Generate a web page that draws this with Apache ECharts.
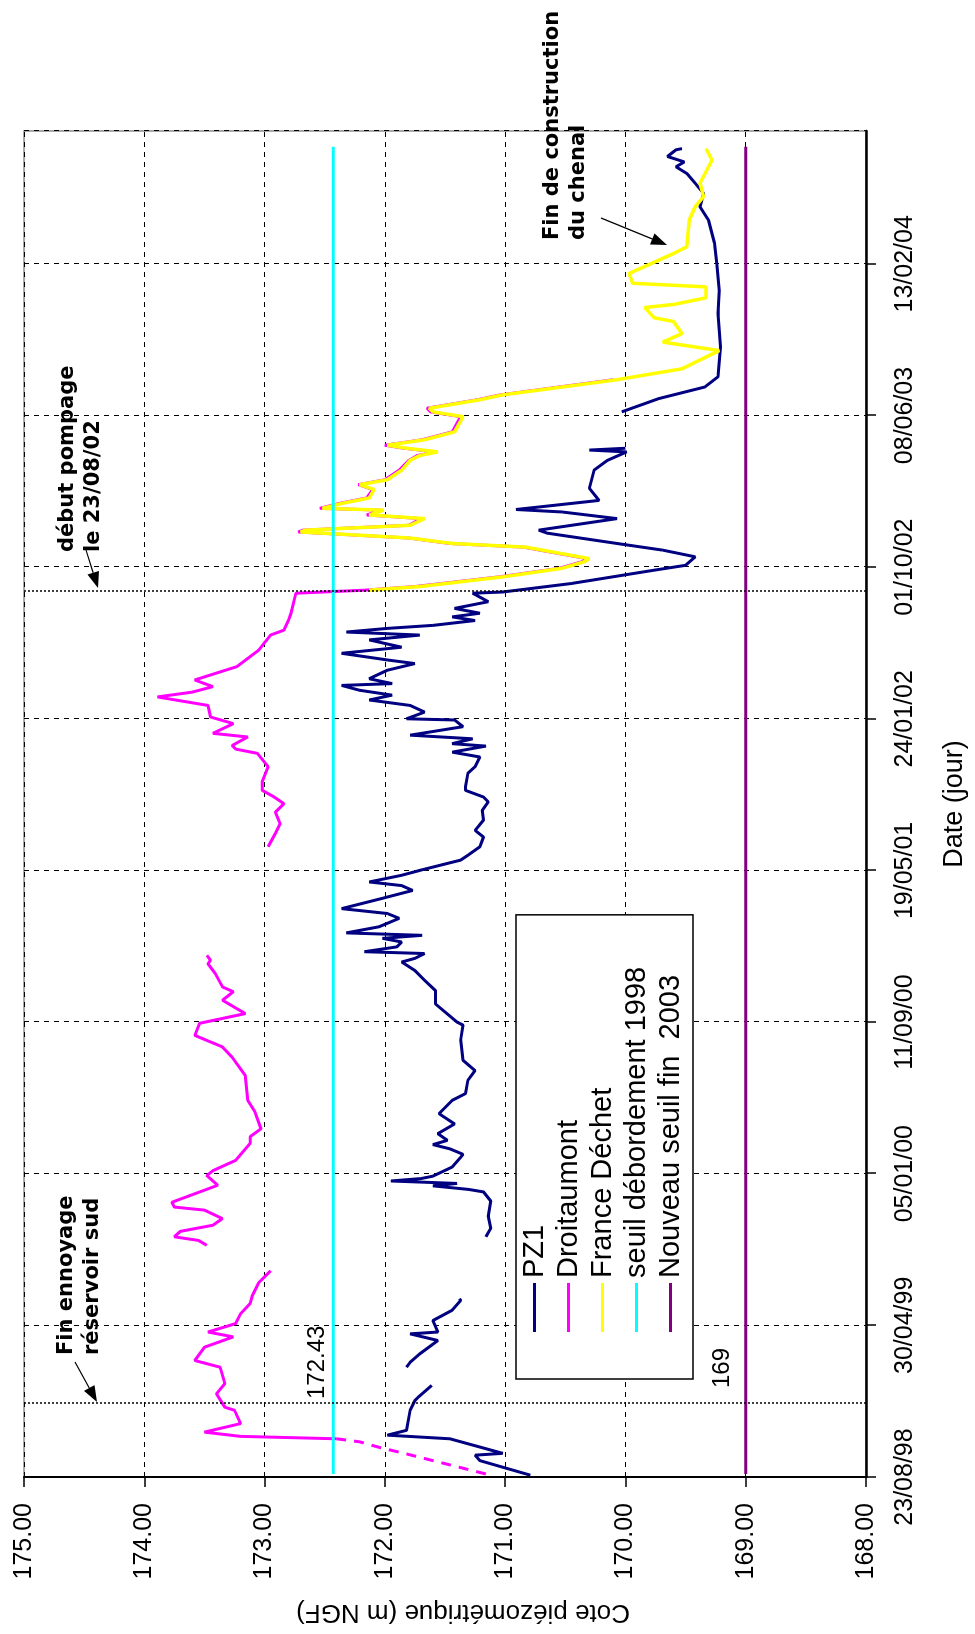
<!DOCTYPE html>
<html>
<head>
<meta charset="utf-8">
<script src="https://cdn.jsdelivr.net/npm/echarts@6/dist/echarts.min.js"></script>
<style>
html,body{margin:0;padding:0;background:#fff;overflow:hidden;width:975px;height:1634px}
#chart{position:absolute;left:0;top:0;width:1634px;height:975px;transform-origin:0 0;transform:translate(0,1634px) rotate(-90deg)}
</style>
</head>
<body>
<div id="chart"></div>
<script>
// ---- data (x = days since 23/08/98, y = m NGF) ----
const pz1 = [[3,170.79],[27,171.21],[36,171.25],[39,171.02],[63,171.46],[69,171.98],[77,171.82],[110,171.79],[126,171.75],[132,171.72],[151,171.61],[160,null],[181,171.82],[189,171.79],[203,171.71],[225,171.56],[236,171.79],[239,171.56],[258,171.6],[275,171.44],[291,171.37],[294,171.38],[340,null],
[396,171.16],[410,171.12],[430,171.14],[455,171.12],[470,171.18],[474,171.3],[480,171.6],[484,171.4],[488,171.95],[492,171.7],[496,171.6],[511,171.44],[527,171.37],[532,171.35],[541,171.46],[548,171.6],[555,171.48],[566,171.56],[582,171.42],[599,171.55],[621,171.44],[632,171.33],[654,171.31],[670,171.25],[687,171.35],[720,171.37],[745,171.35],[750,171.4],[780,171.58],[802,171.58],[819,171.67],[835,171.75],[849,171.86],[855,171.75],[863,171.67],[866,172.17],[874,171.9],[882,171.86],[888,172.02],[893,171.69],[897,172.32],[907,172.05],[921,171.88],[929,171.98],[937,172.36],[954,172.02],[967,171.77],[975,171.86],[981,172.13],[992,171.86],[1000,171.71],[1017,171.37],[1025,171.31],[1039,171.21],[1055,171.18],[1066,171.25],[1083,171.18],[1099,171.19],[1113,171.14],[1121,171.18],[1132,171.33],[1138,171.33],[1160,171.31],[1171,171.25],[1187,171.21],[1195,171.44],[1205,171.16],[1209,171.44],[1217,171.27],[1223,171.79],[1237,171.35],[1248,171.42],[1250,171.82],[1261,171.67],[1272,171.79],[1281,172.13],[1289,171.94],[1297,172.21],[1305,172.36],[1308,171.94],[1316,172.13],[1330,171.98],[1341,171.75],[1347,171.98],[1358,172.36],[1368,171.86],[1380,172.13],[1388,171.71],[1393,172.32],[1399,171.98],[1404,171.6],[1412,171.25],[1418,171.44],[1424,171.21],[1432,171.42],[1443,171.14],[1457,171.27],[1459,171.02],[1473,170.45],[1495,169.76],[1503,169.5],[1517,169.42],[1528,169.69],[1539,170.07],[1556,170.65],[1561,170.72],[1580,170.07],[1591,170.53],[1595,170.91],[1610,170.22],[1630,170.3],[1660,170.26],[1676,170.15],[1690,169.99],[1693,170.3],[1696,170.0],[1725,null],
[1756,170.03],[1778,169.72],[1797,169.34],[1814,169.23],[1863,169.21],[1918,169.23],[1956,169.22],[2001,169.24],[2034,169.26],[2072,169.31],[2094,169.38],[2116,169.35],[2133,169.42],[2149,169.49],[2160,169.58],[2168,169.51],[2177,169.65],[2188,169.58],[2190,169.53]];

const droitaumontStart = [[5,171.16],[16,171.38],[27,171.6],[38,171.82],[49,172.05],[58,172.21],[63,172.4]];

const droitaumont = [[63,172.4],[67,173.2],[74,173.5],[88,173.2],[110,173.25],[115,173.33],[137,173.4],[154,173.33],[181,173.37],[192,173.58],[214,173.5],[231,173.26],[239,173.47],[253,173.24],[269,173.2],[286,173.12],[300,173.1],[320,173.05],[340,172.95],[360,null],
[382,173.48],[390,173.55],[396,173.75],[405,173.7],[415,173.43],[426,173.35],[440,173.5],[445,173.75],[453,173.77],[481,173.39],[497,173.48],[505,173.43],[522,173.24],[550,173.12],[561,173.12],[574,173.03],[602,173.08],[621,173.14],[662,173.16],[692,173.27],[709,173.35],[728,173.58],[748,173.54],[764,173.16],[786,173.35],[800,173.26],[808,173.35],[830,173.41],[846,173.47],[852,173.45],[860,173.48],[950,null],
[1039,172.97],[1061,172.91],[1077,172.87],[1096,172.91],[1110,172.84],[1121,172.92],[1132,173.02],[1146,173.02],[1171,172.97],[1193,173.06],[1200,173.24],[1206,173.27],[1220,173.14],[1226,173.43],[1242,173.26],[1253,173.45],[1272,173.47],[1286,173.89],[1294,173.6],[1303,173.43],[1314,173.58],[1336,173.23],[1363,173.05],[1388,172.95],[1396,172.84],[1413,172.8],[1424,172.78],[1457,172.74],[1462,172.17],[1468,171.75],[1484,171.05],[1498,170.55],[1509,170.36],[1514,170.32],[1533,170.85],[1539,171.46],[1548,171.8],[1558,172.72],[1561,172.68],[1569,171.8],[1580,171.7],[1586,172.15],[1594,172.03],[1597,172.54],[1605,172.38],[1614,172.15],[1628,172.1],[1636,172.22],[1644,172.0],[1660,171.88],[1676,171.8],[1684,171.73],[1690,171.58],[1696,171.84],[1701,172.0],[1710,171.69],[1723,171.44],[1748,171.37],[1756,171.62],[1762,171.65],[1776,171.23],[1784,171.04],[1809,170.1]];

const franceDechet = [[1462,172.13],[1468,171.71],[1484,171.02],[1498,170.53],[1509,170.34],[1514,170.3],[1533,170.83],[1539,171.44],[1548,171.79],[1558,172.7],[1561,172.66],[1569,171.79],[1580,171.67],[1586,172.13],[1594,172.01],[1597,172.52],[1605,172.36],[1614,172.13],[1628,172.09],[1636,172.21],[1644,171.98],[1660,171.86],[1676,171.79],[1684,171.71],[1690,171.56],[1696,171.82],[1701,171.98],[1710,171.67],[1723,171.42],[1748,171.35],[1756,171.6],[1762,171.63],[1776,171.21],[1784,171.02],[1809,170.07],[1827,169.53],[1857,169.22],[1871,169.69],[1885,169.53],[1905,169.6],[1911,169.76],[1928,169.84],[1933,169.6],[1944,169.33],[1962,169.33],[1968,169.94],[1984,169.97],[2017,169.6],[2028,169.49],[2072,169.47],[2094,169.42],[2111,169.35],[2133,169.38],[2171,169.28],[2190,169.33]];

const seuil1998 = [[5,172.43],[2193,172.43]];
const seuil2003 = [[5,169],[2193,169]];
const eventDays = [121, 1461];

const seriesNames = ['PZ1','Droitaumont','France Déchet','seuil débordement 1998','Nouveau seuil fin  2003'];
const yTicks = {min:168, max:175, interval:1};
const xTicks = {min:0, max:2219, interval:250};
const baseDate = Date.UTC(1998,7,23);

function pad(n){return (n<10?'0':'')+n;}
function fmtDay(d){const t=new Date(baseDate+Math.round(d)*86400000);return pad(t.getUTCDate())+'/'+pad(t.getUTCMonth()+1)+'/'+pad(t.getUTCFullYear()%100);}

const FONT = '"Liberation Sans", Arial, sans-serif';
const chart = echarts.init(document.getElementById('chart'), null, {renderer:'canvas'});

const option = {
  animation:false,
  backgroundColor:'#fff',
  grid:{left:157, right:131, top:24, bottom:109, show:true, borderColor:'#8c8c8c', borderWidth:1.5, backgroundColor:'transparent'},
  xAxis:{type:'value', min:xTicks.min, max:xTicks.max, interval:xTicks.interval,
    name:'Date (jour)', nameLocation:'middle', nameGap:75,
    nameTextStyle:{fontSize:27, fontFamily:FONT, color:'#000'},
    axisLine:{show:true, lineStyle:{color:'#000', width:2.5}},
    axisTick:{show:true, length:10, lineStyle:{color:'#000', width:1.5}},
    axisLabel:{fontSize:25, fontFamily:FONT, color:'#000', margin:27, showMaxLabel:false, formatter:fmtDay},
    splitLine:{show:true, lineStyle:{color:'#000', type:[5,5], width:1}}
  },
  yAxis:{type:'value', min:yTicks.min, max:yTicks.max, interval:yTicks.interval,
    name:'Cote piézométrique (m NGF)', nameLocation:'middle', nameGap:122,
    nameTextStyle:{fontSize:26, fontFamily:FONT, color:'#000', padding:[0,36,0,0]},
    axisLine:{show:true, lineStyle:{color:'#000', width:2}},
    axisTick:{show:true, length:10, lineStyle:{color:'#000', width:1.5}},
    axisLabel:{fontSize:25, fontFamily:FONT, color:'#000', margin:26, formatter:v=>v.toFixed(2)},
    splitLine:{show:true, lineStyle:{color:'#000', type:[5,5], width:1}}
  },
  legend:{orient:'vertical', left:255, top:516, padding:[4,52,8,47], itemGap:5, itemWidth:49, itemHeight:3, icon:'rect',
    data:seriesNames, borderColor:'#000', borderWidth:1.5, backgroundColor:'#fff',
    textStyle:{fontSize:29, fontFamily:FONT, color:'#000', lineHeight:28}},
  series:[
    {name:seriesNames[0], type:'line', data:pz1, symbol:'none', showSymbol:false, lineStyle:{color:'#000080', width:3}, itemStyle:{color:'#000080'}},
    {name:seriesNames[1], type:'line', data:droitaumont, symbol:'none', showSymbol:false, lineStyle:{color:'#ff00ff', width:3}, itemStyle:{color:'#ff00ff'}},
    {name:seriesNames[1], type:'line', data:droitaumontStart, symbol:'none', showSymbol:false, lineStyle:{color:'#ff00ff', width:3, type:[10,8]}, itemStyle:{color:'#ff00ff'}},
    {name:seriesNames[2], type:'line', data:franceDechet, symbol:'none', showSymbol:false, lineStyle:{color:'#ffff00', width:3.5}, itemStyle:{color:'#ffff00'}},
    {name:seriesNames[3], type:'line', data:seuil1998, symbol:'none', showSymbol:false, lineStyle:{color:'#00ffff', width:3}, itemStyle:{color:'#00ffff'},
      markLine:{silent:true, symbol:'none', label:{show:false}, lineStyle:{color:'#000', type:[2,2], width:1.5}, data:eventDays.map(d=>({xAxis:d}))}},
    {name:seriesNames[4], type:'line', data:seuil2003, symbol:'none', showSymbol:false, lineStyle:{color:'#800080', width:3}, itemStyle:{color:'#800080'}}
  ]
};
chart.setOption(option);

// annotations
const p1 = chart.convertToPixel({gridIndex:0}, [0, seuil1998[0][1]]);
const p2 = chart.convertToPixel({gridIndex:0}, [0, seuil2003[0][1]]);
const BOLD = 'bold 21px "DejaVu Sans", Verdana, sans-serif';
function arrow(sx,sy,tx,ty){
  const dx=tx-sx, dy=ty-sy, L=Math.hypot(dx,dy), ux=dx/L, uy=dy/L, hl=16, hw=6;
  const bx=tx-ux*hl, by=ty-uy*hl;
  return [
    {type:'line', shape:{x1:sx,y1:sy,x2:bx,y2:by}, style:{stroke:'#000', lineWidth:1.3}},
    {type:'polygon', shape:{points:[[tx,ty],[bx-uy*hw,by+ux*hw],[bx+uy*hw,by-ux*hw]]}, style:{fill:'#000'}}
  ];
}
const g = [
  {type:'text', x:p1[0]+78, y:p1[1]-16, style:{text:String(seuil1998[0][1]), font:'24px '+FONT, fill:'#000', verticalAlign:'middle', align:'left'}},
  {type:'text', x:p2[0]+89, y:p2[1]-23, style:{text:String(seuil2003[0][1]), font:'24px '+FONT, fill:'#000', verticalAlign:'middle', align:'left'}},
  {type:'text', x:279, y:54, style:{text:'Fin ennoyage\nréservoir sud', font:BOLD, lineHeight:26, fill:'#000', align:'left', verticalAlign:'top'}},
  {type:'text', x:1082, y:55, style:{text:'début pompage\nle 23/08/02', font:BOLD, lineHeight:26, fill:'#000', align:'left', verticalAlign:'top'}},
  {type:'text', x:1394, y:540, style:{text:'Fin de construction\ndu chenal', font:BOLD, lineHeight:26, fill:'#000', align:'left', verticalAlign:'top'}}
].concat(arrow(272,75,232,97), arrow(1084,86,1046,98), arrow(1416,601,1389,667));
chart.setOption({graphic:g});
</script>
</body>
</html>
